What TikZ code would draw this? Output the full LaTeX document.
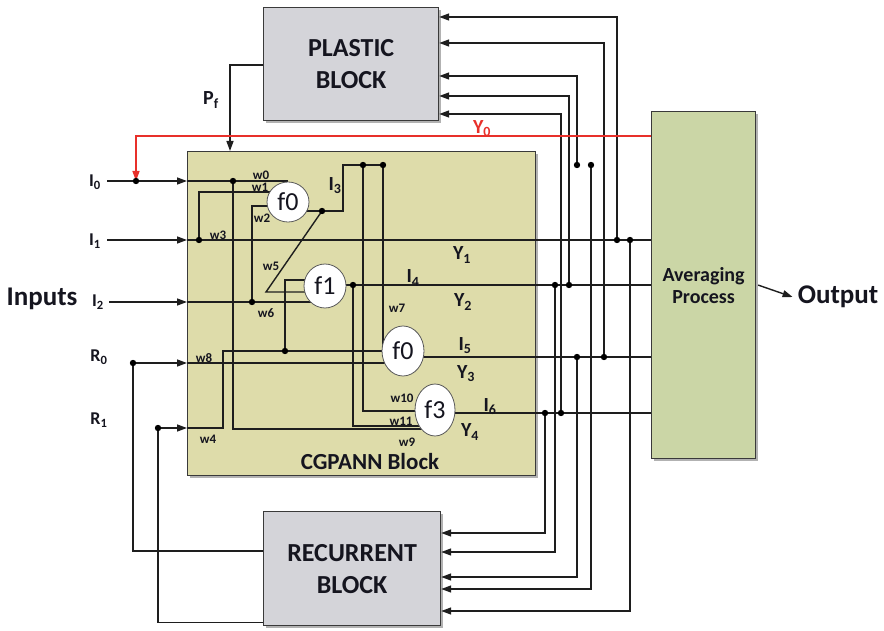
\documentclass[tikz,border=0pt]{standalone}
\usepackage{fontspec}
\setmainfont{Carlito}
\usetikzlibrary{arrows.meta,shapes.geometric,shadows,calc}
\definecolor{ink}{HTML}{15151F}
\definecolor{cgfill}{HTML}{DEDCAA}
\definecolor{avfill}{HTML}{CBD6A6}
\definecolor{grayfill}{HTML}{D4D4D9}
\definecolor{boxline}{HTML}{3A3A3A}
\definecolor{fbred}{HTML}{E8302A}
\definecolor{wirec}{HTML}{1E1E1E}
\newcommand{\myfs}[2]{\fontsize{#1}{#2}\selectfont}
\pgfdeclarelayer{bg}
\pgfdeclarelayer{wires}
\pgfsetlayers{bg,wires,main}
\begin{document}
\begin{tikzpicture}[x=1pt,y=-1pt,
  shadowed/.style={drop shadow={shadow xshift=2pt,shadow yshift=-2pt,fill=black,opacity=0.3}},
  gbox/.style={draw=boxline,line width=1.2pt,fill=grayfill,align=center,text=ink,font={\bfseries\myfs{26}{32}},anchor=north west,shadowed},
  cgbox/.style={draw=boxline,line width=1.2pt,fill=cgfill,anchor=north west,shadowed},
  avbox/.style={draw=boxline,line width=1.2pt,fill=avfill,anchor=north west,align=center,text=ink,font={\bfseries\myfs{20}{22}},shadowed},
  fnode/.style={ellipse,draw=black!65,line width=0.8pt,fill=white,inner sep=0pt,font={\myfs{26}{26}},text=ink},
  wire/.style={draw=wirec,line width=1.4pt},
  arr/.style={wire,-{Triangle[length=10pt,width=7pt]}},
  redarr/.style={draw=fbred,line width=1.4pt,-{Triangle[length=10pt,width=7pt]}},
  jdot/.style={fill=black},
  wlab/.style={font={\bfseries\myfs{13}{13}},text=ink,inner sep=0pt},
  ylab/.style={font={\bfseries\myfs{20}{20}},text=ink,inner sep=0pt},
  inlab/.style={font={\bfseries\myfs{18}{18}},text=ink,inner sep=0pt},
  biglab/.style={font={\bfseries\myfs{27}{27}},text=ink,inner sep=0pt}
]
\useasboundingbox (0,0) rectangle (884,631);

% ---------- blocks ----------
\begin{pgfonlayer}{bg}
\node[gbox,minimum width=175pt,minimum height=113pt] (plastic) at (263,7) {PLASTIC\\BLOCK};
\node[gbox,minimum width=177pt,minimum height=114pt] (rec) at (263,511) {RECURRENT\\BLOCK};
\node[cgbox,minimum width=348pt,minimum height=324pt] (cg) at (187,151) {};
\node[avbox,minimum width=104pt,minimum height=347pt] (av) at (651,111) {Averaging\\Process};
\end{pgfonlayer}

% ---------- function nodes ----------
\node[fnode,minimum width=42pt,minimum height=40pt] (f0a) at (288,202) {f0};
\node[fnode,minimum width=42pt,minimum height=44pt] (f1) at (325,286) {f1};
\node[fnode,minimum width=42pt,minimum height=50pt] (f0b) at (403,351) {f0};
\node[fnode,minimum width=40pt,minimum height=52pt] (f3) at (435,410) {f3};

% ---------- junctions ----------
\coordinate (d0) at (233,181);
\coordinate (d1) at (199,240);
\coordinate (d2) at (252,302);
\coordinate (d3) at (322,211);
\coordinate (d4a) at (363,165);
\coordinate (d4b) at (383,165);
\coordinate (d5) at (353,285);
\coordinate (d6) at (285,351);
\coordinate (dR0) at (133,363);
\coordinate (dR1) at (158,428);
\coordinate (dY0) at (136,181);
\coordinate (w5c) at (266,292);
\coordinate (p1) at (617,240); \coordinate (r1) at (630,240);
\coordinate (p3) at (577,165); \coordinate (r3) at (591,165);
\coordinate (p4) at (569,285); \coordinate (r4) at (555,285);
\coordinate (p5) at (604,357); \coordinate (r5) at (577,357);
\coordinate (p6) at (561,413); \coordinate (r6) at (545,413);

% ---------- labels ----------
\node[biglab] (inputs) at (42,299) {Inputs};
\node[inlab] (I0) at (95,182) {I\textsubscript{0}};
\node[inlab] (I1) at (95,241) {I\textsubscript{1}};
\node[inlab] (I2) at (98,302) {I\textsubscript{2}};
\node[inlab] (R0) at (99,357) {R\textsubscript{0}};
\node[inlab] (R1) at (99,420) {R\textsubscript{1}};
\node[biglab] (outl) at (838,297) {Output};
\node[inlab,font={\bfseries\myfs{20}{20}}] (pf) at (211,100) {P\textsubscript{f}};
\node[inlab,font={\bfseries\myfs{20}{20}},text=fbred] (y0) at (482,129) {Y\textsubscript{0}};
\node[biglab,font={\bfseries\myfs{23}{23}}] (cglab) at (370,462) {CGPANN Block};

\node[wlab] at (261,175) {w0};
\node[wlab] at (260,187) {w1};
\node[wlab] at (262,218) {w2};
\node[wlab] at (218,235) {w3};
\node[wlab] at (271,266) {w5};
\node[wlab] at (266,313) {w6};
\node[wlab] at (208,439) {w4};
\node[wlab] at (204,358) {w8};
\node[wlab] at (397,308) {w7};
\node[wlab] at (402,398) {w10};
\node[wlab] at (401,421) {w11};
\node[wlab] at (407,442) {w9};

\node[ylab] at (335,186) {I\textsubscript{3}};
\node[ylab] at (413,278) {I\textsubscript{4}};
\node[ylab] at (465,346) {I\textsubscript{5}};
\node[ylab] at (490,407) {I\textsubscript{6}};
\node[ylab] at (462,255) {Y\textsubscript{1}};
\node[ylab] at (463,302) {Y\textsubscript{2}};
\node[ylab] at (466,374) {Y\textsubscript{3}};
\node[ylab] at (470,432) {Y\textsubscript{4}};

% ---------- wires ----------
\begin{pgfonlayer}{wires}
% inputs into the block
\draw[arr] ([xshift=6pt]I0.east |- dY0) -- (cg.west |- d0);
\draw[arr] ([xshift=6pt]I1.east |- d1) -- (cg.west |- d1);
\draw[arr] ([xshift=5pt]I2.east |- d2) -- (cg.west |- d2);
\draw[arr] (dR0) -- (cg.west |- dR0);
\draw[arr] (dR1) -- (cg.west |- dR1);
% inside the CGPANN block
\draw[wire] (cg.west |- d0) -- (f0a.north |- d0);
\draw[wire] (d0) |- ($(f3.center)+(0,19)$);
\draw[wire] (d1) |- ($(f0a.center)+(0,-10)$);
\draw[wire] (d2) |- ($(f0a.center)+(0,4)$);
\draw[wire] (cg.west |- d1) -- (av.west |- d1);
\draw[wire] (cg.west |- d2) -- (f1.center |- d2);
\draw[wire] (f0a.center |- d3) -- (d3) -- ++(21,0) |- (d4b);
\draw[wire] (d3) -- (w5c) -- (w5c -| f1.center);
\draw[wire] ($(f1.center)+(0,-6)$) -| (d6);
\draw[wire] (cg.west |- dR1) -- ++(36,0) |- (f0b.center);
\draw[wire] (cg.west |- dR0) -- (f0b.center |- dR0);
\draw[wire] (d4b) -- (d4b |- f0b.center);
\draw[wire] (d4a) |- ($(f3.center)+(0,1)$);
\draw[wire] (d5) |- ($(f3.center)+(0,16)$);
\draw[wire] (f1.center |- d5) -- (av.west |- d5);
\draw[wire] (f0b.center |- p5) -- (av.west |- p5);
\draw[wire] (f3.center |- p6) -- (av.west |- p6);
% feedback to the plastic block
\draw[arr] (p1) |- ($(plastic.north east)+(0,10)$);
\draw[arr] (p5) |- ($(plastic.north east)+(0,36)$);
\draw[arr] (p3) |- ($(plastic.north east)+(0,69)$);
\draw[arr] (p4) |- ($(plastic.north east)+(0,89)$);
\draw[arr] (p6) |- ($(plastic.north east)+(0,107)$);
% feedback to the recurrent block
\draw[arr] (r6) |- ($(rec.north east)+(0,22)$);
\draw[arr] (r4) |- ($(rec.north east)+(0,41)$);
\draw[arr] (r5) |- ($(rec.north east)+(0,66)$);
\draw[arr] (r3) |- ($(rec.north east)+(0,78)$);
\draw[arr] (r1) |- ($(rec.north east)+(0,100)$);
% recurrent outputs
\draw[wire] ($(rec.north west)+(0,40)$) -| (dR0);
\draw[wire] ($(rec.south west)+(0,-4)$) -| (dR1);
% plastic output
\draw[arr] ($(plastic.north west)+(0,58)$) -| ($(cg.north west)+(43,0)$);
% averaged feedback Y0
\draw[redarr] ($(av.north west)+(0,25)$) -| (dY0);
% output
\draw[arr] ($(av.east)+(2,0)$) -- ($(outl.west)+(-5,0)$);
\end{pgfonlayer}

% ---------- dots ----------
\foreach \p in {d0,d1,d2,d3,d4a,d4b,d5,d6,dR0,dR1,dY0,p1,r1,p3,r3,p4,r4,p5,r5,p6,r6}
  \fill[jdot] (\p) circle (3.2pt);
\end{tikzpicture}
\end{document}
